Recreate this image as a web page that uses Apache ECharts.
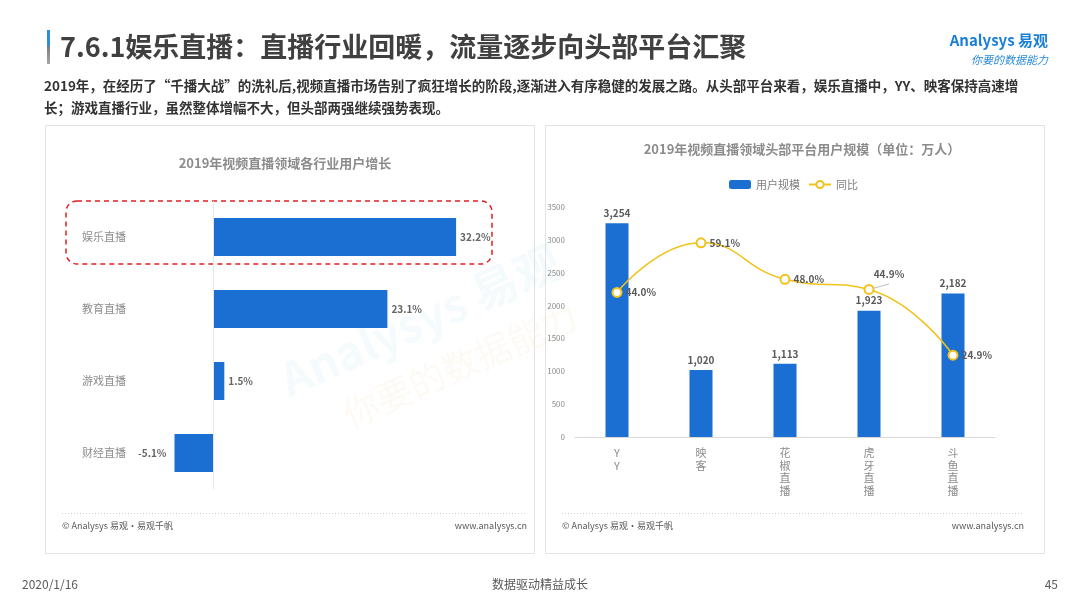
<!DOCTYPE html>
<html><head><meta charset="utf-8">
<script src="https://cdn.jsdelivr.net/npm/echarts@6/dist/echarts.min.js"></script>
<style>html,body{margin:0;padding:0;background:#fff;}#c{width:1080px;height:608px;}</style>
</head><body><div id="c"></div>
<script>
const industryCats = ['娱乐直播','教育直播','游戏直播','财经直播'];
const industryGrowth = [32.2, 23.1, 1.5, -5.1];
const platformCats = ['YY','映客','花椒直播','虎牙直播','斗鱼直播'];
const platformUsers = [3254, 1020, 1113, 1923, 2182];
const platformYoY = [44.0, 59.1, 48.0, 44.9, 24.9];
const userTicks = [0,500,1000,1500,2000,2500,3000,3500];

const F = '"Noto Sans CJK SC","Noto Sans",sans-serif';
const BLUE = '#1b6fd2';
const YEL = '#f2c21b';
const chart = echarts.init(document.getElementById('c'));

chart.setOption({
  backgroundColor:'#fff',
  textStyle:{fontFamily:F},
  animation:false,
  title:[
    {text:'2019年视频直播领域各行业用户增长', left:280, top:152, textAlign:'center',
     textStyle:{fontSize:13,fontWeight:'bold',color:'#8c8c8c',fontFamily:F}},
    {text:'2019年视频直播领域头部平台用户规模（单位：万人）', left:797, top:138, textAlign:'center',
     textStyle:{fontSize:13,fontWeight:'bold',color:'#8c8c8c',fontFamily:F}}
  ],
  legend:{data:['用户规模','同比'], left:724, top:174, itemWidth:22, itemHeight:9, itemGap:8,
    textStyle:{fontSize:11,color:'#7f7f7f',fontFamily:F}},
  grid:[
    {left:137.5, width:377.5, top:201, height:288},
    {left:575, width:420, top:207, height:230}
  ],
  xAxis:[
    {gridIndex:0, type:'value', min:-10, max:40, show:false},
    {gridIndex:1, type:'category', data:platformCats,
     axisLine:{lineStyle:{color:'#d9d9d9'}}, axisTick:{show:false},
     axisLabel:{color:'#8c8c8c', fontSize:11, lineHeight:12.5, margin:10,
       formatter:v=>v.split('').join('\n')}}
  ],
  yAxis:[
    {gridIndex:0, type:'category', data:industryCats, inverse:true,
     axisLine:{show:false}, axisTick:{show:false},
     axisLabel:{align:'left', margin:55.5, color:'#8c8c8c', fontSize:11}},
    {gridIndex:1, type:'value', min:0, max:3500, interval:500,
     axisLine:{show:false}, axisTick:{show:false}, splitLine:{show:false},
     axisLabel:{color:'#8c8c8c', fontSize:8, margin:10, formatter:v=>String(v)}},
    {gridIndex:1, type:'value', min:0, max:70, show:false, splitLine:{show:false}}
  ],
  series:[
    {type:'bar', xAxisIndex:0, yAxisIndex:0,
     data:industryGrowth.map(v=> v<0 ? {value:v, label:{position:'left', distance:8}} : v),
     barWidth:38,
     itemStyle:{color:BLUE},
     label:{show:true, fontSize:10, fontWeight:'bold', color:'#666', distance:4,
       position:'right', formatter:p=>p.value.toFixed(1)+'%'},
     markLine:{silent:true, symbol:'none', label:{show:false},
       lineStyle:{color:'#e6e6e6', type:'solid', width:1}, data:[{xAxis:0}]}
    },
    {name:'用户规模', type:'bar', xAxisIndex:1, yAxisIndex:1, data:platformUsers, barWidth:23,
     itemStyle:{color:BLUE},
     label:{show:true, position:'top', fontSize:10, fontWeight:'bold', color:'#595959', distance:5,
       formatter:p=>p.value.toLocaleString('en-US')}},
    {name:'同比', type:'line', xAxisIndex:1, yAxisIndex:2, smooth:true,
     data:platformYoY.map((v,i)=> i===3 ? {value:v, label:{position:'top', offset:[20,-2]}, labelLine:{show:true, lineStyle:{color:'#bfbfbf'}}} : v),
     symbol:'circle', symbolSize:9,
     lineStyle:{color:YEL, width:1.5},
     itemStyle:{color:'#fff', borderColor:YEL, borderWidth:2},
     label:{show:true, position:'right', fontSize:10, fontWeight:'bold', color:'#595959', distance:3,
       formatter:p=>p.value.toFixed(1)+'%'}}
  ],
  graphic:[
    {type:'rect', shape:{x:47, y:30, width:3, height:34},
     style:{fill:new echarts.graphic.LinearGradient(0,0,0,1,[{offset:0,color:'#2b8fe0'},{offset:0.45,color:'#2b8fe0'},{offset:0.5,color:'#7f7f7f'},{offset:1,color:'#a6a6a6'}])}},
    {type:'text', x:60, y:47, style:{text:'7.6.1娱乐直播：直播行业回暖，流量逐步向头部平台汇聚',
      font:'bold 27px '+F, fill:'#404040', textVerticalAlign:'middle'}},
    {type:'text', x:1048, y:40, style:{text:'Analysys 易观', font:'bold 15px '+F, fill:'#1a7fd6', textAlign:'right', textVerticalAlign:'middle'}},
    {type:'text', x:1048, y:60, style:{text:'你要的数据能力', font:'italic 11px '+F, fill:'#2a8ad8', textAlign:'right', textVerticalAlign:'middle'}},
    {type:'text', x:44, y:86, style:{text:'2019年，在经历了“千播大战”的洗礼后,视频直播市场告别了疯狂增长的阶段,逐渐进入有序稳健的发展之路。从头部平台来看，娱乐直播中，YY、映客保持高速增',
      font:'bold 13.5px '+F, fill:'#333', textVerticalAlign:'middle'}},
    {type:'text', x:44, y:108, style:{text:'长；游戏直播行业，虽然整体增幅不大，但头部两强继续强势表现。',
      font:'bold 13.5px '+F, fill:'#333', textVerticalAlign:'middle'}},
    {type:'rect', shape:{x:45.5, y:125.5, width:489, height:428}, style:{fill:'none', stroke:'#e3e3e3', lineWidth:1}, z:-1},
    {type:'rect', shape:{x:545.5, y:125.5, width:499, height:428}, style:{fill:'none', stroke:'#e3e3e3', lineWidth:1}, z:-1},
    {type:'text', x:420, y:320, rotation:0.42, style:{text:'Analysys 易观', font:'bold 46px '+F, fill:'rgba(120,190,230,0.07)', textAlign:'center', textVerticalAlign:'middle'}},
    {type:'text', x:460, y:365, rotation:0.42, style:{text:'你要的数据能力', font:'36px '+F, fill:'rgba(230,200,140,0.09)', textAlign:'center', textVerticalAlign:'middle'}},
    {type:'rect', shape:{x:66, y:201, width:426, height:63, r:11},
     style:{fill:'none', stroke:'#e02020', lineWidth:1.5, lineDash:[5,4]}},
    {type:'line', shape:{x1:62, y1:513.5, x2:527, y2:513.5}, style:{stroke:'#cfcfcf', lineWidth:1, lineDash:[1,2]}},
    {type:'line', shape:{x1:562, y1:513.5, x2:1024, y2:513.5}, style:{stroke:'#cfcfcf', lineWidth:1, lineDash:[1,2]}},
    {type:'text', x:62, y:526, style:{text:'© Analysys 易观·易观千帆', font:'9px '+F, fill:'#595959', textVerticalAlign:'middle'}},
    {type:'text', x:527, y:526, style:{text:'www.analysys.cn', font:'9px '+F, fill:'#595959', textAlign:'right', textVerticalAlign:'middle'}},
    {type:'text', x:562, y:526, style:{text:'© Analysys 易观·易观千帆', font:'9px '+F, fill:'#595959', textVerticalAlign:'middle'}},
    {type:'text', x:1024, y:526, style:{text:'www.analysys.cn', font:'9px '+F, fill:'#595959', textAlign:'right', textVerticalAlign:'middle'}},
    {type:'text', x:22, y:584, style:{text:'2020/1/16', font:'12px '+F, fill:'#595959', textVerticalAlign:'middle'}},
    {type:'text', x:540, y:584, style:{text:'数据驱动精益成长', font:'12px '+F, fill:'#595959', textAlign:'center', textVerticalAlign:'middle'}},
    {type:'text', x:1058, y:584, style:{text:'45', font:'12px '+F, fill:'#595959', textAlign:'right', textVerticalAlign:'middle'}}
  ]
});
</script></body></html>
